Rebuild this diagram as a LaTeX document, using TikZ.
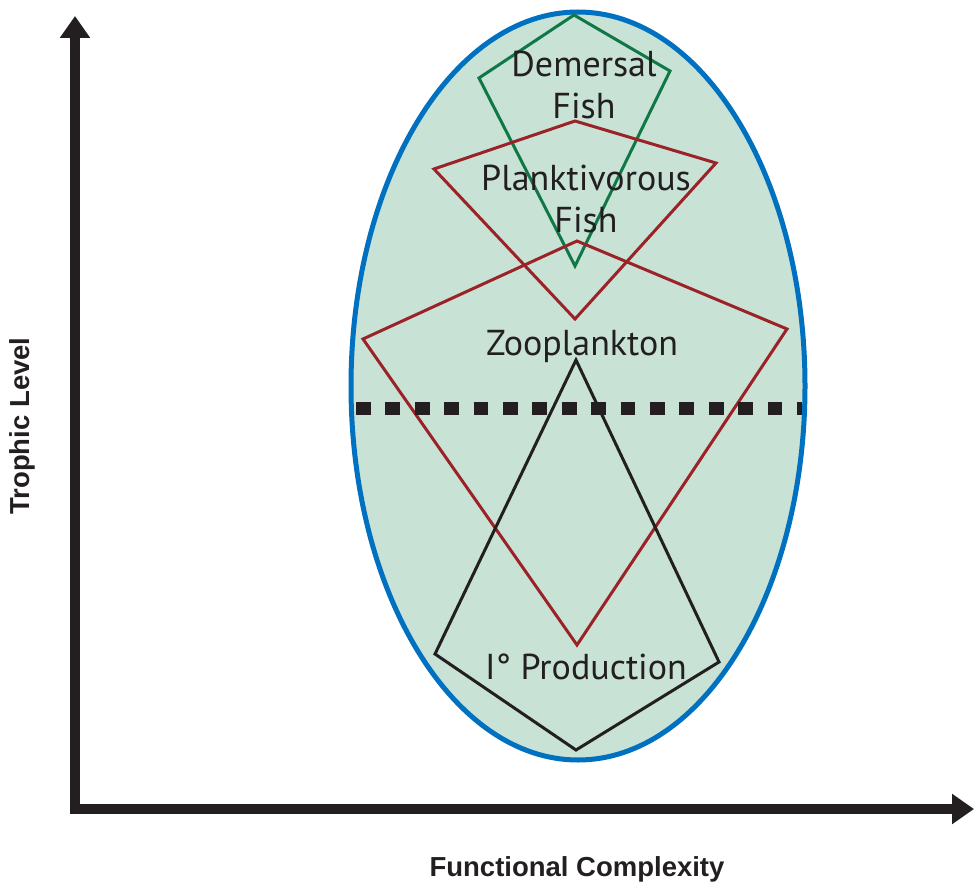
\documentclass[tikz,border=0pt]{standalone}
\usepackage{fontspec}
\usetikzlibrary{arrows.meta}
\newfontfamily\labelfont{PT Sans}
\newfontfamily\axisfont{Liberation Sans}
\definecolor{inkgray}{RGB}{35,31,32}
\definecolor{ovalblue}{RGB}{0,112,192}
\definecolor{ovalfill}{RGB}{200,226,214}
\definecolor{fishgreen}{RGB}{16,120,70}
\definecolor{webred}{RGB}{155,34,38}
\tikzset{
  axisline/.style={line width=10pt, inkgray, line join=miter,
    {Triangle[length=22pt,width=29pt]}-{Triangle[length=22pt,width=29pt]}},
  axistitle/.style={font=\axisfont\bfseries\fontsize{27.5}{30}\selectfont, text=inkgray, inner sep=0pt},
  group/.style={font=\labelfont\fontsize{36}{42}\selectfont, text=inkgray, align=center, inner sep=0pt, anchor=base},
  kite/.style={line width=3pt, line join=miter},
  divider/.style={line width=13pt, inkgray, dash pattern=on 14.7pt off 14.7pt}
}
\begin{document}
\begin{tikzpicture}[x=1pt,y=-1pt]
\useasboundingbox (0,0) rectangle (974,883);

% envelope of the food web
\draw[ovalblue, fill=ovalfill, line width=5pt] (578,386) ellipse [x radius=227, y radius=374];

% trophic groups
\draw[kite, fishgreen] (574,15) -- (479,78) -- (575,266) -- (670,71) -- cycle;
\draw[kite, webred] (575,121) -- (434,169) -- (575,319) -- (716,163) -- cycle;
\draw[kite, webred] (577,241) -- (363,339) -- (577,645) -- (787,329) -- cycle;
\draw[kite, inkgray] (576,360) -- (435,654) -- (576,750) -- (719,662) -- cycle;

% boundary line
\coordinate (divL) at (356,408);
\coordinate (divR) at (802,408);
\draw[divider] (divL) -- (divR);

% labels (base anchor sits on the last line)
\node[group] (demersal) at (584,118) {Demersal\\Fish};
\node[group] (plankt) at (586,232) {Planktivorous\\Fish};
\node[group] (zoo) at (582,355) {Zooplankton};
\node[group] (prod) at (586,679) {I° Production};

% axes
\coordinate (ytip) at (75,16);
\coordinate (corner) at (75,809);
\coordinate (xtip) at (974,809);
\draw[axisline] (ytip) -- (corner) -- (xtip);

\node[axistitle, rotate=90] (ylabel) at (22,426) {Trophic Level};
\node[axistitle] (xlabel) at (577,869) {Functional Complexity};
\end{tikzpicture}
\end{document}
